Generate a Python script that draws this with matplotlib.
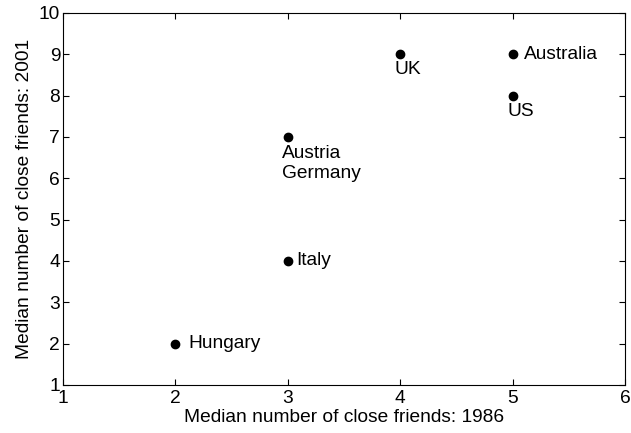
import matplotlib; matplotlib.use("Agg")
import matplotlib.pyplot as plt

plt.rcParams.update({"font.family": ["Liberation Sans", "DejaVu Sans"], "font.size": 13.8})

# median number of close friends, 1986 vs 2001
countries = ["Australia", "Austria\nGermany", "Hungary", "Italy", "UK", "US"]
y1986 = [5, 3, 2, 3, 4, 5]
y2001 = [9, 7, 2, 4, 9, 8]
# label placement (offset in points, alignment)
offs = {"Australia": (8, 0, "left", "center"), "Austria\nGermany": (-4, -6, "left", "top"),
        "Hungary": (9, 0, "left", "center"), "Italy": (6, 0, "left", "center"),
        "UK": (-4, -5, "left", "top"), "US": (-4, -5, "left", "top")}

fig = plt.figure(figsize=(6.31, 4.33), dpi=100)
ax = fig.add_axes([0.0998, 0.111, 0.8907, 0.859])
ax.plot(y1986, y2001, "o", color="black", markersize=6, linestyle="none")
for c, x, y in zip(countries, y1986, y2001):
    dx, dy, ha, va = offs[c]
    ax.annotate(c, (x, y), xytext=(dx, dy), textcoords="offset points", ha=ha, va=va,
                linespacing=1.2)
ax.set_xlim(1, 6); ax.set_ylim(1, 10)
ax.set_xticks(range(1, 7)); ax.set_yticks(range(1, 11))
ax.tick_params(direction="in", top=True, right=True, length=4, pad=2)
ax.tick_params(axis="x", pad=4)
ax.set_xlabel("Median number of close friends: 1986", labelpad=1)
ax.set_ylabel("Median number of close friends: 2001", labelpad=4)
fig.savefig("out.png")
